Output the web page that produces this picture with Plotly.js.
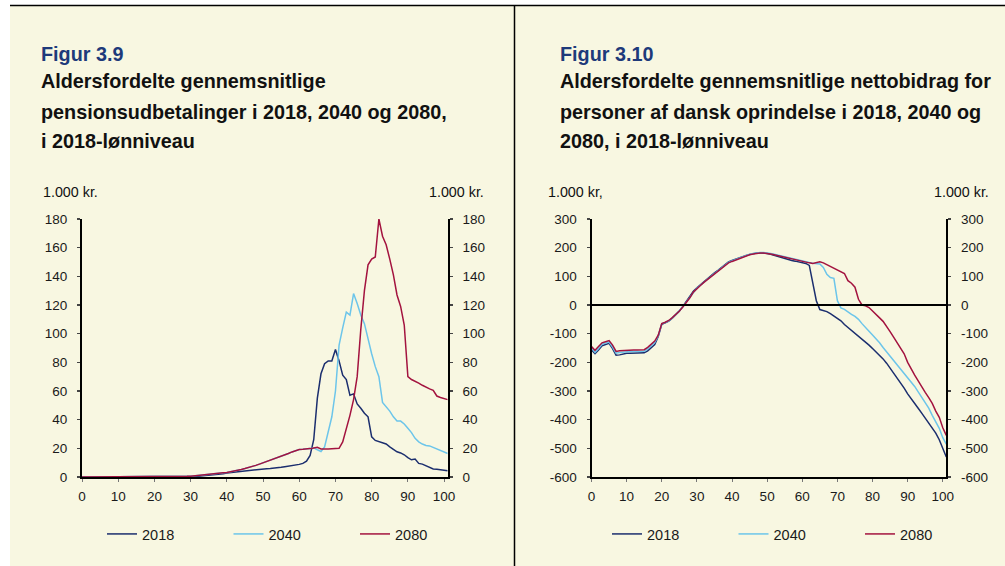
<!DOCTYPE html>
<html><head><meta charset="utf-8">
<script src="https://cdn.plot.ly/plotly-3.0.1.min.js"></script>
<style>html,body{margin:0;padding:0;background:#fff;overflow:hidden;} #chart{width:1005px;height:566px;}</style>
</head><body><div id="chart"></div>
<script>
// ---------- data ----------
var ages = Array.from({length: 102}, function(_, i){ return i; });
var xTickVals = [0,10,20,30,40,50,60,70,80,90,100];
var xTickText = ['0','10','20','30','40','50','60','70','80','90','100'];
var seriesNames = ['2018','2040','2080'];

// Figur 3.9 - pension payouts (1.000 kr.)
var pension2018 = [0,0,0,0,0,0,0,0,0,0, 0,0,0,0,0,0,0,0,0,0,
  0,0,0,0,0.1,0.1,0.2,0.2,0.3,0.3, 0.4,0.5,0.6,0.8,0.9,1.1,1.3,1.6,1.9,2.3,
  2.8,3.1,3.4,3.7,4.0,4.3,4.8,5.0,5.2,5.4, 5.6,5.8,6.0,6.1,6.4,6.8,7.2,7.5,7.8,8.3,
  8.8,9.5,11,15,26,55,72,79,81,81, 89,81,71,68,57,58,51,48,44.5,42,
  28,25.5,24.5,23.7,23,21,19,17.6,16.8,15.5, 13.5,12,12.5,9.5,9,8,6.8,5.6,5.4,5, 4.5,4.3];
var pension2040 = [0,0,0,0,0,0,0,0,0,0, 0,0,0,0,0,0,0,0,0,0,
  0,0,0,0,0.1,0.1,0.2,0.3,0.4,0.5, 0.6,0.8,1.0,1.2,1.4,1.7,2.0,2.3,2.6,2.9,
  3.2,3.6,4.1,4.7,5.3,5.9,6.5,7.3,8.1,9.0, 9.9,10.8,11.7,12.5,13.3,14.1,15.1,16.4,17.5,18.5,
  19.2,19.4,19.6,20,20.3,19,17.8,21,32,42, 60,92,104,115,113,128,121,113,107,96,
  86,77,70,52,49,46,42,39,39,37, 34,31,27,24.5,23,22,21.7,20.6,19.5,18.6, 17,16.4];
var pension2080 = [0,0,0,0,0,0,0,0,0,0, 0,0,0,0,0,0,0,0,0,0,
  0,0,0,0,0.1,0.1,0.2,0.3,0.4,0.5, 0.6,0.8,1.0,1.2,1.4,1.7,2.0,2.3,2.6,2.9,
  3.2,3.6,4.1,4.7,5.3,5.9,6.5,7.3,8.1,9.0, 9.9,10.8,11.7,12.5,13.3,14.1,15.1,16.4,17.5,18.5,
  19.2,19.3,19.4,19.8,20.3,20.7,19.6,19.4,19.5,19.7, 19.8,20,24.5,33,43,54,70,103,130,148,
  152,153.5,180,168,162,152,141,127,119,106, 70,68,67,65.5,64,62.5,61.5,60.5,56.5,55.5, 54.5,54];

// Figur 3.10 - net contributions (1.000 kr.)
var netto2018 = [-157,-170,-157,-142,-138,-134,-152,-175,-174,-171, -168,-168,-168,-168,-168,-167,-160,-150,-138,-110,
  -67,-62,-56,-46,-34,-22,-5,12,30,48, 60,71,82,92,102,112,121,130,140,150,
  155,160,165,169,173,176,179,181,182,182, 180,177,173,169,165,161,158,155,153,151,
  149,145,138,80,15,-16,-20,-23,-30,-38, -45,-55,-68,-78,-89,-98,-108,-117,-127,-140,
  -152,-163,-175,-188,-203,-220,-237,-254,-272,-290, -310,-328,-345,-360,-377,-394,-410,-428,-447,-470, -500,-530];
var netto2040 = [-150,-165,-152,-137,-133,-129,-147,-168,-166,-164, -162,-162,-162,-162,-162,-161,-153,-143,-131,-107,
  -65,-61,-55,-45,-33,-21,-6,10,27,46, 59,69,80,90,100,110,119,128,138,149,
  154,159,164,169,173,177,180,182,183,183, 182,180,177,174,171,168,164,161,158,156,
  153,151,148,146,145,143,131,107,96,93, 15,-10,-15,-25,-33,-40,-50,-65,-80,-92,
  -105,-118,-132,-148,-163,-178,-193,-208,-222,-236, -250,-266,-284,-303,-321,-340,-360,-385,-410,-430, -463,-485];
var netto2080 = [-145,-158,-145,-132,-128,-124,-140,-162,-160,-159, -157,-157,-157,-157,-157,-156,-148,-138,-126,-105,
  -65,-60,-54,-44,-33,-21,-7,8,25,45, 58,68,79,89,99,108,117,126,136,147,
  152,157,162,167,171,175,178,180,181,181, 180,178,175,172,169,166,163,160,157,155,
  153,150,147,145,148,151,147,141,135,129, 122,116,110,85,76,62,20,0,-3,-9,
  -22,-32,-45,-57,-73,-93,-112,-130,-148,-170, -200,-225,-245,-265,-287,-305,-323,-343,-370,-392, -428,-455];

var yTicksLeft = [0,20,40,60,80,100,120,140,160,180];
var yTicksRight = [300,200,100,0,-100,-200,-300,-400,-500,-600];
var yTicksRightText = ['300','200','100','0','-100','-200','-300','-400','-500','-600'];

// ---------- styling ----------
var colors = ['#1B2E6E', '#6CC5EA', '#A3133F'];
var cream = '#F8F7E1';
var FONT = 'Liberation Sans, Arial, Helvetica, sans-serif';
var W = 1005, H = 566;
function fx(x){ return x / W; }
function fy(y){ return 1 - y / H; }

var traces = [];
[pension2018, pension2040, pension2080].forEach(function(vals, i){
  traces.push({x: ages, y: vals, type: 'scatter', mode: 'lines', name: seriesNames[i],
    line: {color: colors[i], width: 1.5}, xaxis: 'x', yaxis: 'y', legend: 'legend', hoverinfo: 'skip'});
});
[netto2018, netto2040, netto2080].forEach(function(vals, i){
  traces.push({x: ages, y: vals, type: 'scatter', mode: 'lines', name: seriesNames[i],
    line: {color: colors[i], width: 1.5}, xaxis: 'x2', yaxis: 'y2', legend: 'legend2', hoverinfo: 'skip'});
});
// invisible companions so the secondary (right-hand) value axes are drawn
traces.push({x: ages, y: pension2018, type: 'scatter', mode: 'lines', xaxis: 'x', yaxis: 'y3',
  line: {width: 0, color: 'rgba(0,0,0,0)'}, showlegend: false, hoverinfo: 'skip'});
traces.push({x: ages, y: netto2018, type: 'scatter', mode: 'lines', xaxis: 'x2', yaxis: 'y4',
  line: {width: 0, color: 'rgba(0,0,0,0)'}, showlegend: false, hoverinfo: 'skip'});

var tickFont = {family: FONT, size: 13.5, color: '#1a1a1a'};
var yDomain = [fy(477), fy(219)];

function xAxis(domain, anchor){
  return {domain: domain, anchor: anchor, range: [0, 101], tickmode: 'array', tickvals: xTickVals, ticktext: xTickText,
    ticks: 'outside', ticklen: 3, tickwidth: 1, tickcolor: '#777', showline: true, linecolor: '#000', linewidth: 2,
    showgrid: false, zeroline: false, tickfont: tickFont, ticklabelstandoff: 3, fixedrange: true};
}
function yAxis(range, vals, text, anchor, side, overlay){
  var a = {domain: yDomain, anchor: anchor, side: side, range: range, tickmode: 'array', tickvals: vals, ticktext: text,
    ticks: 'outside', ticklen: 3, tickwidth: 1.2, tickcolor: '#444', showline: true, linecolor: '#000', linewidth: 2,
    showgrid: false, zeroline: false, tickfont: tickFont, ticklabelstandoff: 7, fixedrange: true};
  if (overlay) a.overlaying = overlay;
  return a;
}

var legendFont = {family: FONT, size: 14.5, color: '#1a1a1a'};
var layout = {
  width: W, height: H,
  margin: {l: 0, r: 0, t: 0, b: 0, autoexpand: false},
  paper_bgcolor: '#ffffff',
  plot_bgcolor: 'rgba(0,0,0,0)',
  font: {family: FONT, color: '#1a1a1a'},
  xaxis: xAxis([fx(82), fx(447.7)], 'y'),
  yaxis: yAxis([0, 180], yTicksLeft, yTicksLeft.map(String), 'x', 'left'),
  yaxis3: yAxis([0, 180], yTicksLeft, yTicksLeft.map(String), 'x', 'right', 'y'),
  xaxis2: xAxis([fx(591.5), fx(946.3)], 'y2'),
  yaxis2: yAxis([-600, 300], yTicksRight, yTicksRightText, 'x2', 'left'),
  yaxis4: yAxis([-600, 300], yTicksRight, yTicksRightText, 'x2', 'right', 'y2'),
  showlegend: true,
  legend: {orientation: 'h', x: fx(102), y: fy(534), xanchor: 'left', yanchor: 'middle',
    bgcolor: 'rgba(0,0,0,0)', font: legendFont,
    entrywidth: 81.5, entrywidthmode: 'pixels', itemwidth: 30, traceorder: 'normal'},
  legend2: {orientation: 'h', x: fx(607), y: fy(534), xanchor: 'left', yanchor: 'middle',
    bgcolor: 'rgba(0,0,0,0)', font: legendFont,
    entrywidth: 81.5, entrywidthmode: 'pixels', itemwidth: 30, traceorder: 'normal'},
  shapes: [
    {type: 'rect', xref: 'paper', yref: 'paper', x0: fx(10), x1: 1, y0: 0, y1: fy(5), fillcolor: cream, line: {width: 0}, layer: 'below'},
    {type: 'line', xref: 'paper', yref: 'paper', x0: fx(10), x1: 1, y0: fy(5.5), y1: fy(5.5), line: {color: '#000', width: 1.5}},
    {type: 'line', xref: 'paper', yref: 'paper', x0: fx(514.5), x1: fx(514.5), y0: 0, y1: fy(5.5), line: {color: '#000', width: 1.5}},
    {type: 'line', xref: 'x2 domain', yref: 'y2', x0: 0, x1: 1, y0: 0, y1: 0, line: {color: '#000', width: 2}}
  ],
  annotations: []
};

function ann(text, x, y, size, opts){
  var a = {text: text, xref: 'paper', yref: 'paper', x: fx(x), y: fy(y), xanchor: 'left', yanchor: 'middle',
    showarrow: false, font: {family: FONT, size: size, color: '#111'}};
  for (var k in (opts || {})) a[k] = opts[k];
  return a;
}
var navyTitle = '#1E3a7a';
var TS = 19.8;
layout.annotations.push(ann('<b>Figur 3.9</b>', 39, 53.5, TS, {font: {family: FONT, size: TS, color: navyTitle}}));
layout.annotations.push(ann('<b>Aldersfordelte gennemsnitlige</b>', 39, 81, TS));
layout.annotations.push(ann('<b>pensionsudbetalinger i 2018, 2040 og 2080,</b>', 39, 111.5, TS));
layout.annotations.push(ann('<b>i 2018-lønniveau</b>', 39, 140.5, TS));
layout.annotations.push(ann('<b>Figur 3.10</b>', 558, 53.5, TS, {font: {family: FONT, size: TS, color: navyTitle}}));
layout.annotations.push(ann('<b>Aldersfordelte gennemsnitlige nettobidrag for</b>', 558, 81, TS));
layout.annotations.push(ann('<b>personer af dansk oprindelse i 2018, 2040 og</b>', 558, 111.5, TS));
layout.annotations.push(ann('<b>2080, i 2018-lønniveau</b>', 558, 140.5, TS));
var US = 14.3;
layout.annotations.push(ann('1.000 kr.', 100, 192, US, {xanchor: 'right'}));
layout.annotations.push(ann('1.000 kr.', 427, 192, US));
layout.annotations.push(ann('1.000 kr,', 605, 192, US, {xanchor: 'right'}));
layout.annotations.push(ann('1.000 kr.', 932, 192, US));

Plotly.newPlot('chart', traces, layout, {displayModeBar: false, staticPlot: true});
</script></body></html>
